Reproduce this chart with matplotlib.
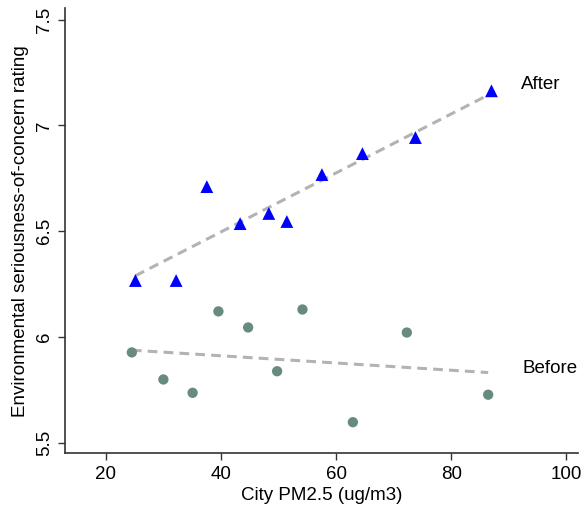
import matplotlib
matplotlib.use("Agg")
import matplotlib.pyplot as plt
import numpy as np

# Before: city PM2.5 vs rating
before_x = [24.55, 30.03, 35.1, 39.58, 44.74, 49.77, 54.17, 62.92, 72.29, 86.41]
before_y = [5.926, 5.798, 5.735, 6.120, 6.044, 5.837, 6.129, 5.596, 6.020, 5.726]

# After
after_x = [25.17, 32.24, 37.57, 43.35, 48.33, 51.46, 57.55, 64.58, 73.78, 86.98]
after_y = [6.266, 6.266, 6.710, 6.535, 6.583, 6.545, 6.767, 6.866, 6.942, 7.163]

x_ticks = [20, 40, 60, 80, 100]
y_ticks = [5.5, 6, 6.5, 7, 7.5]
y_tick_labels = ["5.5", "6", "6.5", "7", "7.5"]

plt.rcParams["font.family"] = ["Liberation Sans", "DejaVu Sans"]
FS = 13.5

fig = plt.figure(figsize=(5.82, 5.08), dpi=100)
ax = fig.add_axes([0.1122, 0.1077, 0.8809, 0.8763])

LINE_COLOR = "#b3b3b3"
for xs, ys in [(after_x, after_y), (before_x, before_y)]:
    xs = np.array(xs)
    slope, icpt = np.polyfit(xs, ys, 1)
    fx = np.array([xs.min(), xs.max()])
    ax.plot(fx, slope * fx + icpt, color=LINE_COLOR, lw=2.2, ls=(0, (3.2, 2.0)), zorder=2)

ax.scatter(before_x, before_y, s=55, color="#678b7f", edgecolors="none", zorder=3)
ax.scatter(after_x, after_y, s=85, marker="^", color="#0000ff", edgecolors="none", zorder=3)

ax.text(92.1, 7.192, "After", fontsize=FS, va="center", ha="left")
ax.text(92.3, 5.849, "Before", fontsize=FS, va="center", ha="left")

ax.set_xlim(13.0, 102.0)
ax.set_ylim(5.449, 7.554)
ax.set_xticks(x_ticks)
ax.set_yticks(y_ticks)
ax.set_yticklabels(y_tick_labels, rotation=90, va="center")
ax.tick_params(axis="both", labelsize=FS, length=5, width=1, color="#333333", pad=4)
ax.set_xlabel("City PM2.5 (ug/m3)", fontsize=FS, labelpad=3)
ax.set_ylabel("Environmental seriousness-of-concern rating", fontsize=FS, labelpad=5)

for side in ["top", "right"]:
    ax.spines[side].set_visible(False)
for side in ["left", "bottom"]:
    ax.spines[side].set_color("#333333")
    ax.spines[side].set_linewidth(1.2)

fig.savefig("out.png", dpi=100)
